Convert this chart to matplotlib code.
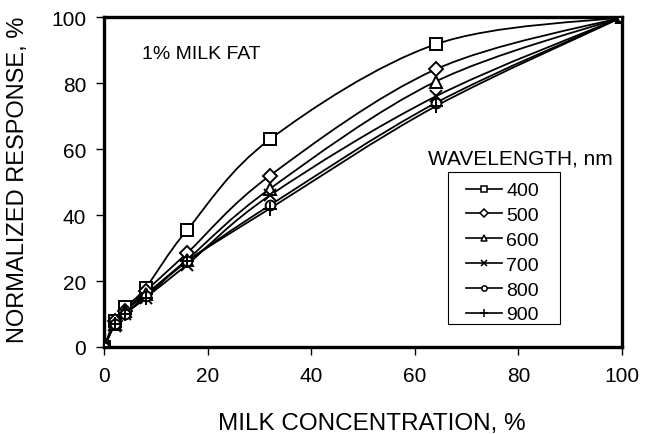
import matplotlib
matplotlib.use("Agg")
import matplotlib.pyplot as plt
from matplotlib.path import Path
from matplotlib.patches import PathPatch, Rectangle
import numpy as np

plt.rcParams['font.family'] = ['Liberation Sans', 'DejaVu Sans']

# milk concentration, %
conc = [0, 2, 4, 8, 16, 32, 64, 100]

# normalized response, %
r400 = [0, 8, 12, 18, 35.5, 63, 91.8, 100]
r500 = [0, 8, 11, 17, 28.5, 52, 84.2, 100]
r600 = [0, 7, 11, 16, 26.5, 48, 80.5, 100]
r700 = [0, 6.5, 10, 15, 25, 46, 76, 100]
r800 = [0, 7, 10, 15.5, 26, 43, 74, 100]
r900 = [0, 7, 10, 15, 26, 42, 73, 100]

labels = ['400', '500', '600', '700', '800', '900']
series = [r400, r500, r600, r700, r800, r900]
markers = ['s', 'D', '^', 'x', 'o', '+']
msizes = [8, 7, 8, 9, 7, 10]


def smooth_path(x, y):
    # Excel-style smoothed line: cubic bezier between the data points
    p = np.column_stack([x, y]).astype(float)
    n = len(p)
    verts = [p[0]]
    codes = [Path.MOVETO]
    for i in range(n - 1):
        p0 = p[i - 1] if i > 0 else p[i]
        p3 = p[i + 2] if i + 2 < n else p[i + 1]
        c1 = p[i] + (p[i + 1] - p0) / 6.0
        c2 = p[i + 1] - (p3 - p[i]) / 6.0
        verts += [c1, c2, p[i + 1]]
        codes += [Path.CURVE4] * 3
    return Path(verts, codes)


fig = plt.figure(figsize=(6.52, 4.35), dpi=100)
ax = fig.add_axes([0.160, 0.200, 0.794, 0.758])

handles = []
for lab, vals, m, ms in zip(labels, series, markers, msizes):
    ax.add_patch(PathPatch(smooth_path(conc, vals), fill=False, lw=1.3,
                           edgecolor='black', zorder=2))
    ax.plot(conc, vals, linestyle='none', marker=m, ms=ms, mfc='white',
            mec='black', mew=1.4, zorder=3)
    h, = ax.plot([], [], color='black', lw=1.2, marker=m, ms=ms * 0.55,
                 mfc='white', mec='black', mew=1.1, label=lab)
    handles.append(h)

ax.set_xlim(0, 100)
ax.set_ylim(0, 100)
ax.set_xticks([0, 20, 40, 60, 80, 100])
ax.set_yticks([0, 20, 40, 60, 80, 100])
ax.tick_params(direction='out', length=6, width=1, labelsize=15)
ax.tick_params(axis='x', pad=8)
ax.tick_params(axis='y', pad=7)
for s in ax.spines.values():
    s.set_linewidth(2.4)

ax.set_xlabel('MILK CONCENTRATION, %', fontsize=17.5)
ax.xaxis.set_label_coords(0.517, -0.197)
ax.set_ylabel('NORMALIZED RESPONSE, %', fontsize=17)
ax.yaxis.set_label_coords(-0.145, 0.51)

ax.text(7.3, 89, '1% MILK FAT', fontsize=14, va='center', ha='left')
fig.text(0.656, 0.621, 'WAVELENGTH, nm', fontsize=15, ha='left',
         va='baseline')

# legend box drawn separately so its size matches the original
fig.patches.append(Rectangle((0.687, 0.253), 0.172, 0.349, fill=False,
                             edgecolor='black', lw=0.8,
                             transform=fig.transFigure, zorder=4))
leg = fig.legend(handles=handles, loc='upper left',
                 bbox_to_anchor=(0.714, 0.580), fontsize=14,
                 handlelength=1.85, handletextpad=0.25, labelspacing=0.37,
                 borderpad=0, borderaxespad=0, frameon=False)

fig.savefig('out.png', dpi=100)
